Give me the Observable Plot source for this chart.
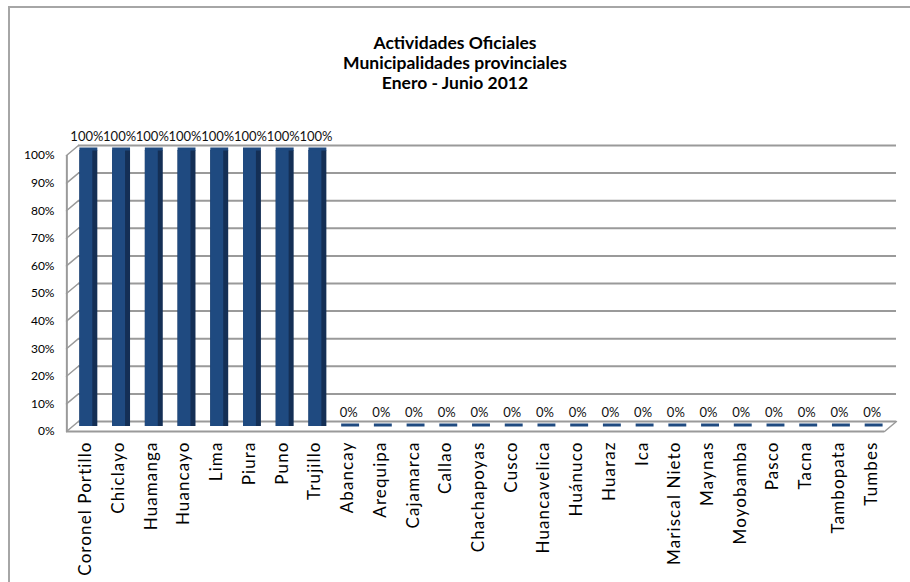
<!DOCTYPE html>
<html><head><meta charset="utf-8">
<script src="https://cdn.jsdelivr.net/npm/d3@7"></script>
<script src="https://cdn.jsdelivr.net/npm/@observablehq/plot@0.6"></script>
<style>
html,body{margin:0;padding:0;background:#fff;overflow:hidden;width:910px;height:582px;}
#frame{position:absolute;left:8px;top:6px;width:1000px;height:1000px;border-top:2px solid #a6a6a6;border-left:2px solid #a6a6a6;}
#title{position:absolute;left:0;top:33px;width:910px;text-align:center;font-family:Lato,sans-serif;font-weight:bold;font-size:17.5px;line-height:20px;color:#000;}
#chart{position:absolute;left:0;top:100px;}
#chart svg g[aria-label="x-axis tick label"] text{letter-spacing:1.1px;}
</style></head><body>
<div id="frame"></div>
<div id="title"></div>
<div id="chart"></div>
<script>
const titleLines = ["Actividades Oficiales", "Municipalidades provinciales", "Enero - Junio 2012"];
const categories = ["Coronel Portillo","Chiclayo","Huamanga","Huancayo","Lima","Piura","Puno","Trujillo","Abancay","Arequipa","Cajamarca","Callao","Chachapoyas","Cusco","Huancavelica","Huánuco","Huaraz","Ica","Mariscal Nieto","Maynas","Moyobamba","Pasco","Tacna","Tambopata","Tumbes"];
const values = [1,1,1,1,1,1,1,1,0,0,0,0,0,0,0,0,0,0,0,0,0,0,0,0,0];
const yTicks = [0,0.1,0.2,0.3,0.4,0.5,0.6,0.7,0.8,0.9,1];
const tickLabels = ["0%","10%","20%","30%","40%","50%","60%","70%","80%","90%","100%"];

document.getElementById("title").innerHTML = titleLines.join("<br>");

const data = categories.map((c, i) => ({name: c, value: values[i]}));
const pct = d3.format(".0%");
const gridColor = "#9a9a9a";
const lineShape = {draw(ctx, l) { ctx.moveTo(0, 0); ctx.lineTo(0, -l); }};
const inset = 7.4;

const chart = Plot.plot({
  width: 910,
  height: 482,
  marginLeft: 72,
  marginRight: 20,
  marginTop: 50,
  marginBottom: 156,
  style: {fontFamily: "Lato, sans-serif", fontSize: "12px", color: "#000", background: "transparent"},
  x: {domain: categories, padding: 0, round: false, label: null},
  y: {domain: [0, 1], label: null},
  marks: [
    Plot.ruleY(yTicks, {stroke: gridColor, strokeWidth: 2, dx: 6, dy: -5}),
    Plot.ruleY([0], {stroke: gridColor, strokeWidth: 2, dx: -6, dy: 5}),
    Plot.ruleX([categories[0]], {stroke: gridColor, strokeWidth: 2, dx: -22, dy: 5}),
    Plot.vector(yTicks, {y: d => d, frameAnchor: "left", dx: -6, dy: 5, rotate: 50, length: 15.6, anchor: "start", stroke: gridColor, strokeWidth: 1.5, shape: lineShape}),
    Plot.vector([0], {y: d => d, frameAnchor: "right", dx: -6, dy: 5, rotate: 50, length: 15.6, anchor: "start", stroke: gridColor, strokeWidth: 1.5, shape: lineShape}),
    Plot.rectY(data, {x: "name", y: "value", fill: "#142f55", insetLeft: inset, insetRight: inset}),
    Plot.rectY(data, {x: "name", y: "value", fill: "#1f4a80", insetLeft: inset, insetRight: inset + 5}),
    Plot.tickY(data, {x: "name", y: "value", stroke: "#1f4a80", strokeWidth: 3, dy: -1.5, insetLeft: inset, insetRight: inset}),
    Plot.text(data, {x: "name", y: "value", text: d => pct(d.value), dy: -14, dx: -2, fontSize: 13, fill: "#111"}),
    Plot.axisY(yTicks, {tickSize: 0, tickPadding: 18, dy: 5, fontSize: 12, tickFormat: (d) => tickLabels[yTicks.indexOf(d)]}),
    Plot.axisX({tickSize: 0, tickRotate: -90, tickPadding: 15, fontSize: 17, dx: -3})
  ]
});
document.getElementById("chart").appendChild(chart);
</script>
</body></html>
